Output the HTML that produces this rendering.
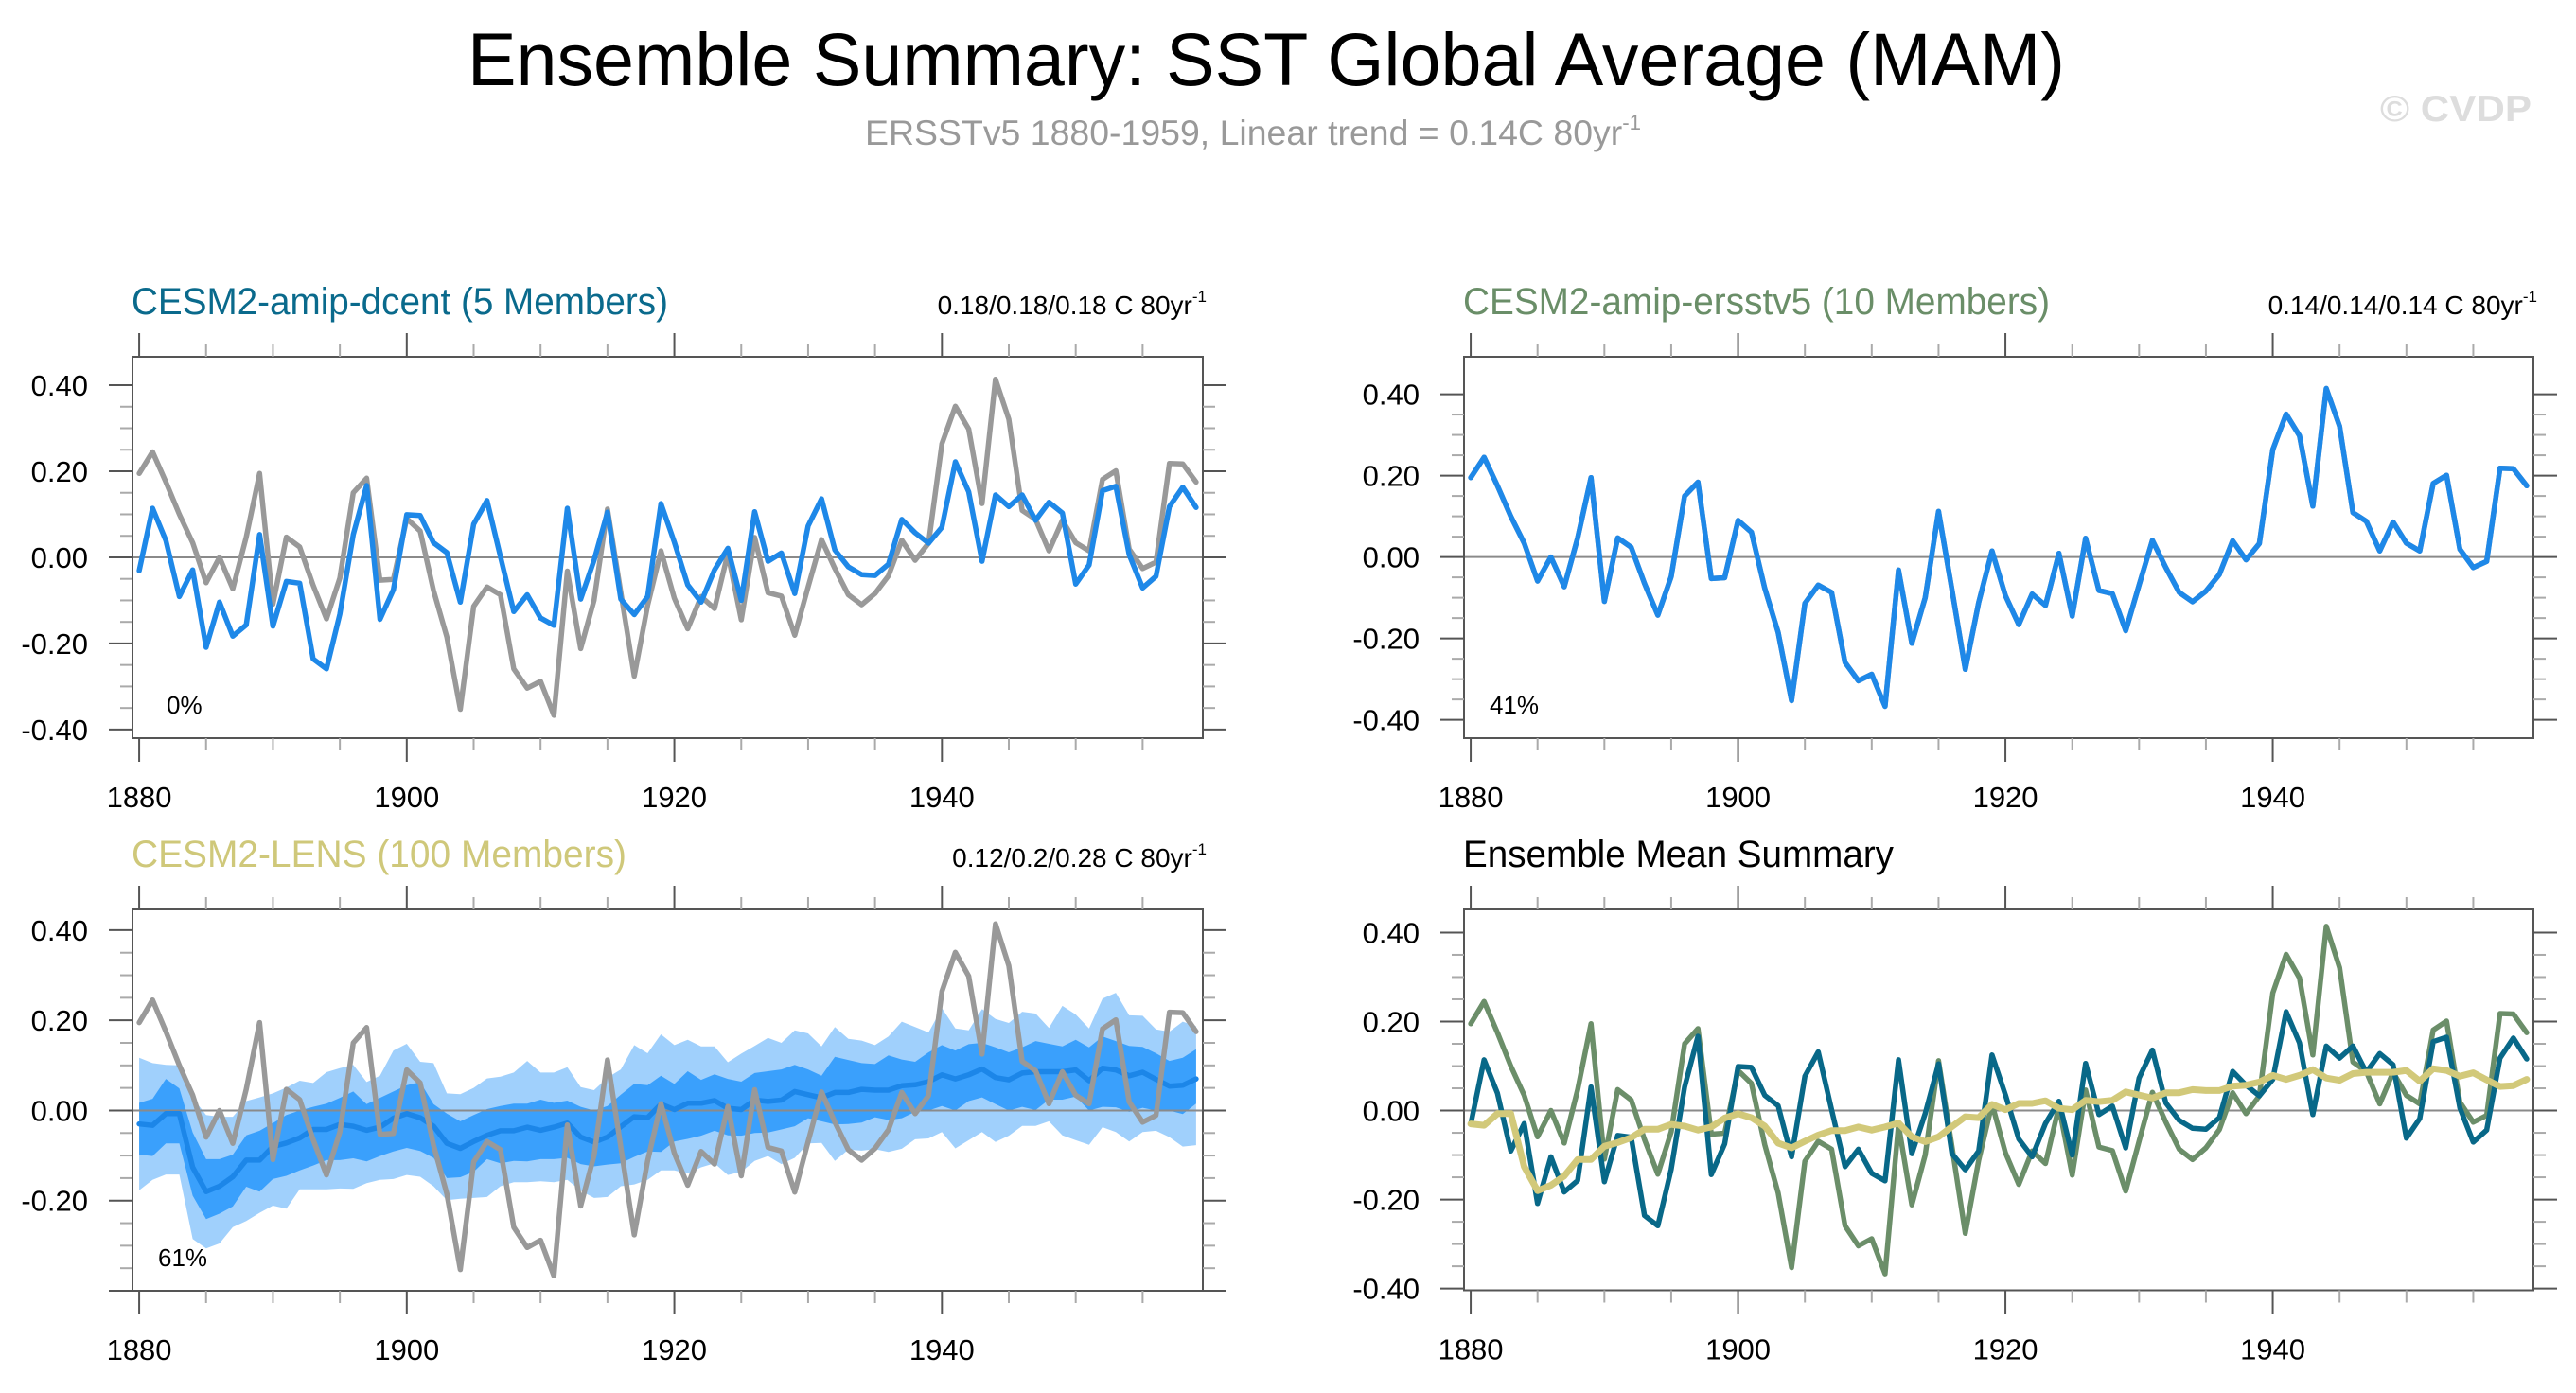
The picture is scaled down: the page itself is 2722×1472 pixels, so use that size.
<!DOCTYPE html>
<html><head><meta charset="utf-8">
<style>
html,body{margin:0;padding:0;background:#fff;}
svg{display:block;font-family:"Liberation Sans",Arial,sans-serif;}
</style></head>
<body>
<svg id="chart" width="2722" height="1472" viewBox="0 0 2722 1472" xmlns="http://www.w3.org/2000/svg">
<rect width="2722" height="1472" fill="#fff"/>
<text x="494" y="90" font-size="79" textLength="1688" lengthAdjust="spacingAndGlyphs" fill="#000">Ensemble Summary: SST Global Average (MAM)</text>
<text x="914" y="153" font-size="37" fill="#999" textLength="820" lengthAdjust="spacingAndGlyphs">ERSSTv5 1880-1959, Linear trend = 0.14C 80yr<tspan font-size="22" dy="-16">-1</tspan></text>
<text x="2515" y="128" font-size="39" font-weight="bold" fill="#dddddd" textLength="160" lengthAdjust="spacingAndGlyphs">© CVDP</text>
<g id="panels"></g>
</svg>
<script>
// ---- data (SST anomaly, degC), years 1880..1959 ----
const years = Array.from({length:80},(_,i)=>1880+i);
const obsSeries = [0.195,0.245,0.175,0.100,0.034,-0.059,0.000,-0.073,0.047,0.195,
-0.109,0.047,0.024,-0.065,-0.143,-0.048,0.150,0.184,-0.053,-0.051,
0.090,0.061,-0.077,-0.185,-0.353,-0.114,-0.069,-0.087,-0.259,-0.304,
-0.288,-0.367,-0.032,-0.212,-0.100,0.112,-0.081,-0.276,-0.112,0.015,
-0.095,-0.166,-0.091,-0.119,0.009,-0.145,0.046,-0.082,-0.090,-0.181,
-0.069,0.041,-0.026,-0.087,-0.110,-0.084,-0.043,0.040,-0.007,0.033,
0.264,0.351,0.298,0.125,0.414,0.321,0.109,0.088,0.015,0.086,
0.034,0.015,0.181,0.201,0.019,-0.026,-0.011,0.218,0.217,0.175];
const dcentMean = [-0.031,0.114,0.039,-0.091,-0.029,-0.209,-0.104,-0.183,-0.157,0.053,
-0.160,-0.056,-0.060,-0.236,-0.259,-0.132,0.053,0.167,-0.144,-0.075,
0.099,0.097,0.034,0.011,-0.104,0.077,0.132,0.002,-0.126,-0.087,
-0.141,-0.158,0.114,-0.097,-0.007,0.105,-0.097,-0.133,-0.091,0.125,
0.035,-0.064,-0.104,-0.029,0.021,-0.100,0.106,-0.009,0.010,-0.084,
0.073,0.136,0.017,-0.022,-0.040,-0.042,-0.016,0.088,0.057,0.033,
0.070,0.222,0.152,-0.009,0.145,0.118,0.145,0.086,0.128,0.103,
-0.062,-0.018,0.155,0.165,0.006,-0.071,-0.044,0.118,0.163,0.116];
const ersstMean = obsSeries.slice();
const lensMean = [-0.030,-0.033,-0.007,-0.007,-0.126,-0.180,-0.168,-0.147,-0.110,-0.110,
-0.080,-0.072,-0.061,-0.042,-0.042,-0.031,-0.035,-0.044,-0.037,-0.017,
-0.007,-0.016,-0.035,-0.073,-0.084,-0.069,-0.055,-0.045,-0.045,-0.037,
-0.044,-0.037,-0.028,-0.059,-0.070,-0.059,-0.036,-0.014,-0.016,0.014,
0.002,0.016,0.016,0.022,0.005,0.002,0.023,0.020,0.023,0.042,
0.035,0.028,0.040,0.040,0.047,0.045,0.045,0.055,0.057,0.064,
0.079,0.070,0.079,0.092,0.073,0.068,0.083,0.086,0.086,0.086,
0.090,0.066,0.094,0.090,0.077,0.085,0.069,0.054,0.056,0.070];
const lensOuterHigh = [0.117,0.105,0.101,0.100,0.028,-0.010,-0.014,-0.014,0.021,0.029,
0.038,0.051,0.066,0.061,0.085,0.094,0.101,0.063,0.077,0.133,
0.148,0.108,0.105,0.038,0.036,0.050,0.071,0.075,0.084,0.110,
0.084,0.084,0.096,0.052,0.045,0.073,0.091,0.145,0.127,0.169,
0.145,0.157,0.142,0.142,0.107,0.126,0.143,0.161,0.150,0.178,
0.171,0.142,0.185,0.159,0.155,0.145,0.164,0.197,0.185,0.173,
0.227,0.182,0.178,0.225,0.203,0.194,0.219,0.215,0.183,0.232,
0.213,0.182,0.248,0.261,0.211,0.210,0.180,0.175,0.197,0.187];
const lensOuterLow = [-0.177,-0.154,-0.142,-0.142,-0.285,-0.306,-0.295,-0.259,-0.245,-0.227,
-0.211,-0.218,-0.175,-0.175,-0.175,-0.173,-0.174,-0.161,-0.154,-0.152,
-0.143,-0.147,-0.168,-0.199,-0.196,-0.194,-0.192,-0.168,-0.159,-0.159,
-0.157,-0.159,-0.154,-0.178,-0.194,-0.192,-0.168,-0.164,-0.154,-0.133,
-0.133,-0.140,-0.126,-0.117,-0.143,-0.136,-0.112,-0.101,-0.119,-0.105,
-0.073,-0.072,-0.112,-0.087,-0.089,-0.086,-0.092,-0.085,-0.064,-0.062,
-0.048,-0.084,-0.066,-0.048,-0.070,-0.056,-0.034,-0.034,-0.024,-0.055,
-0.066,-0.076,-0.037,-0.048,-0.069,-0.048,-0.045,-0.059,-0.080,-0.077];
const lensInnerHigh = [0.017,0.026,0.070,0.049,-0.049,-0.108,-0.108,-0.098,-0.055,-0.045,
-0.028,-0.010,0.000,0.008,0.015,0.028,0.042,0.014,0.028,0.042,
0.056,0.063,0.014,-0.007,-0.024,-0.010,0.003,0.010,0.015,0.015,
0.024,0.017,0.022,0.008,0.000,0.010,0.035,0.059,0.056,0.077,
0.059,0.087,0.068,0.080,0.070,0.064,0.083,0.087,0.091,0.101,
0.091,0.077,0.119,0.112,0.105,0.103,0.122,0.113,0.108,0.129,
0.145,0.133,0.147,0.150,0.140,0.129,0.140,0.154,0.148,0.142,
0.157,0.140,0.164,0.154,0.143,0.141,0.127,0.110,0.117,0.136];
const lensInnerLow = [-0.098,-0.101,-0.073,-0.073,-0.189,-0.241,-0.229,-0.213,-0.169,-0.180,
-0.152,-0.145,-0.133,-0.122,-0.110,-0.110,-0.106,-0.113,-0.101,-0.091,
-0.083,-0.090,-0.105,-0.150,-0.148,-0.136,-0.108,-0.117,-0.112,-0.113,
-0.108,-0.108,-0.105,-0.119,-0.124,-0.120,-0.117,-0.103,-0.091,-0.092,
-0.069,-0.063,-0.056,-0.045,-0.055,-0.056,-0.050,-0.049,-0.042,-0.035,
-0.017,-0.024,-0.031,-0.030,-0.027,-0.015,-0.021,-0.017,-0.003,0.000,
0.010,0.000,0.021,0.029,0.014,0.000,0.008,0.001,0.024,0.024,
0.031,0.000,0.008,0.007,-0.003,0.006,0.000,0.000,-0.008,0.015];
const xTickLabels = [1880,1900,1920,1940];
const yTickLabelsFull = [0.4,0.2,0,-0.2,-0.4];
const yTickLabelsLens = [0.4,0.2,0,-0.2];

const NS = "http://www.w3.org/2000/svg";
const root = document.getElementById('panels');
function mk(tag, attrs, parent){
  const e = document.createElementNS(NS, tag);
  for (const k in attrs) e.setAttribute(k, attrs[k]);
  (parent||root).appendChild(e);
  return e;
}

function panel(cfg){
  const g = mk('g', {});
  
  
  const x = v => cfg.x0 + (v - 1879.5) / 80 * (cfg.x1 - cfg.x0);
  const y = v => cfg.y0 + (cfg.ymax - v) / (cfg.ymax - cfg.ymin) * (cfg.y1 - cfg.y0);
  (cfg.bands||[]).forEach(b => {
    let d = '';
    years.forEach((yr,i)=>{ d += (i?'L':'M') + x(yr).toFixed(1)+','+y(b.hi[i]).toFixed(1); });
    for (let i=years.length-1;i>=0;i--) d += 'L' + x(years[i]).toFixed(1)+','+y(b.lo[i]).toFixed(1);
    const p = mk('path', {d: d+'Z', fill: b.color, stroke:'none'}, g);
    
    
  });
  const z = mk('line', {x1:cfg.x0, x2:cfg.x1, y1:y(0), y2:y(0), stroke:'#8a8a8a', 'stroke-width':2}, g);
  
  
  cfg.series.forEach(s => {
    const pts = years.map((yr,i)=> x(yr).toFixed(1)+','+y(s.data[i]).toFixed(1)).join(' ');
    const pl = mk('polyline', {points: pts, fill:'none', stroke:s.color, 'stroke-width':s.w||5.5, 'stroke-linejoin':'round', 'stroke-linecap':'round'}, g);
    
    
  });
  const fr = mk('rect', {x:cfg.x0, y:cfg.y0, width:cfg.x1-cfg.x0, height:cfg.y1-cfg.y0, fill:'none', stroke:'#555', 'stroke-width':2}, g);
  
  
  for (let k=-8;k<=8;k++){
    const v = k*0.05;
    if (v > cfg.ymax+1e-6 || v < cfg.ymin-1e-6) continue;
    const major = (k % 4 === 0);
    const L = major ? 25 : 13;
    mk('line', {x1:cfg.x0-L, x2:cfg.x0, y1:y(v), y2:y(v), stroke:major?'#555':'#aaa', 'stroke-width':2}, g);
    mk('line', {x1:cfg.x1, x2:cfg.x1+L, y1:y(v), y2:y(v), stroke:major?'#555':'#aaa', 'stroke-width':2}, g);
  }
  cfg.yLabels.forEach(v => {
    const t = mk('text', {x:cfg.x0-47, y:y(v)+11, 'font-size':31, 'text-anchor':'end', fill:'#000'}, g);
    t.textContent = v.toFixed(2);
    
    
  });
  for (let yr=1880; yr<=1955; yr+=5){
    const major = (yr % 20 === 0);
    const L = major ? 25 : 13;
    mk('line', {x1:x(yr), x2:x(yr), y1:cfg.y0-L, y2:cfg.y0, stroke:major?'#555':'#aaa', 'stroke-width':2}, g);
    mk('line', {x1:x(yr), x2:x(yr), y1:cfg.y1, y2:cfg.y1+L, stroke:major?'#555':'#aaa', 'stroke-width':2}, g);
  }
  xTickLabels.forEach(v => {
    const t = mk('text', {x:x(v), y:cfg.y1+73, 'font-size':31, 'text-anchor':'middle', fill:'#000'}, g);
    t.textContent = v;
    
    
  });
  const tt = mk('text', {x:cfg.x0-1, y:cfg.y0-45, 'font-size':40, fill:cfg.titleColor, textLength:cfg.titleLen, lengthAdjust:'spacingAndGlyphs'}, g);
  tt.textContent = cfg.title;
  
  
  if (cfg.trend){
    const tr = mk('text', {x:cfg.x1+4, y:cfg.y0-45, 'font-size':28, 'text-anchor':'end', fill:'#000'}, g);
    tr.textContent = cfg.trend + ' C 80yr';
    const sup = mk('tspan', {'font-size':17, dy:-13}, tr);
    sup.textContent = '-1';
    
    
  }
  if (cfg.pct){
    const pc = mk('text', {x:cfg.x0+cfg.pctDx, y:cfg.y1-26, 'font-size':26, fill:'#000'}, g);
    pc.textContent = cfg.pct;
    
    
  }
}

const OBS='#999999', BLUE='#1e88e8';
panel({name:'panel-amip-dcent', x0:140, x1:1271, y0:377, y1:780, ymin:-0.42, ymax:0.466,
  yLabels:yTickLabelsFull, title:'CESM2-amip-dcent (5 Members)', titleColor:'#0a6a8c', titleLen:567,
  trend:'0.18/0.18/0.18', pct:'0%', pctDx:36,
  series:[{name:'observed-line', data:obsSeries, color:OBS},{name:'dcent-mean-line', data:dcentMean, color:BLUE}]});
panel({name:'panel-amip-ersstv5', x0:1547, x1:2677, y0:377, y1:780, ymin:-0.445, ymax:0.492,
  yLabels:yTickLabelsFull, title:'CESM2-amip-ersstv5 (10 Members)', titleColor:'#6a8e68', titleLen:620,
  trend:'0.14/0.14/0.14', pct:'41%', pctDx:27,
  series:[{name:'observed-line', data:obsSeries, color:OBS},{name:'ersstv5-mean-line', data:ersstMean, color:BLUE}]});
panel({name:'panel-lens', x0:140, x1:1271, y0:961, y1:1364, ymin:-0.400, ymax:0.446,
  yLabels:yTickLabelsLens, title:'CESM2-LENS (100 Members)', titleColor:'#cfc87a', titleLen:523,
  trend:'0.12/0.2/0.28', pct:'61%', pctDx:27,
  bands:[{name:'lens-outer-spread', hi:lensOuterHigh, lo:lensOuterLow, color:'#a0d0fc'},
         {name:'lens-inner-spread', hi:lensInnerHigh, lo:lensInnerLow, color:'#3aa0fc'}],
  series:[{name:'lens-mean-line', data:lensMean, color:'#1c86e8'},{name:'observed-line', data:obsSeries, color:OBS}]});
panel({name:'panel-ensemble-mean-summary', x0:1547, x1:2677, y0:961, y1:1363.5, ymin:-0.404, ymax:0.452,
  yLabels:yTickLabelsFull, title:'Ensemble Mean Summary', titleColor:'#000', titleLen:455,
  series:[{name:'ersstv5-mean-line', data:ersstMean, color:'#6b8e69'},
          {name:'dcent-mean-line', data:dcentMean, color:'#086888'},
          {name:'lens-mean-line', data:lensMean, color:'#d2c97a', w:7}]});
</script>
</body></html>
